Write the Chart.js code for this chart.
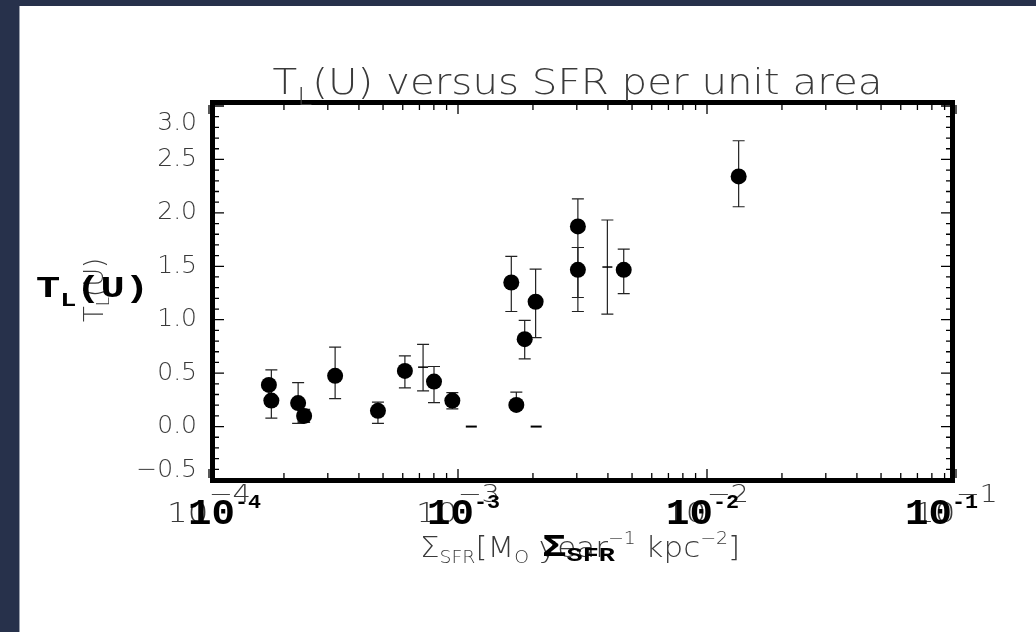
<!DOCTYPE html>
<html>
<head>
<meta charset="utf-8">
<script src="https://cdn.jsdelivr.net/npm/chart.js@4.4.1/dist/chart.umd.min.js"></script>
<style>
    html, body { margin: 0; padding: 0; background: #27314b; }
    canvas { display: block; }
</style>
</head>
<body>
<canvas id="chartTL" width="1036" height="632"></canvas>
<script>
// T_L(U) vs SFR surface density, filled circles with error bars
const sfrDensity = [1.74e-4, 1.78e-4, 2.28e-4, 2.41e-4, 3.21e-4, 4.77e-4, 6.12e-4, 8.01e-4, 9.49e-4,
    1.637e-3, 1.715e-3, 1.853e-3, 2.05e-3, 3.03e-3, 3.03e-3, 4.63e-3, 1.34e-2];
const tlValues = [0.39, 0.243, 0.22, 0.10, 0.475, 0.147, 0.521, 0.421, 0.243,
    1.348, 0.203, 0.818, 1.168, 1.873, 1.467, 1.467, 2.341];
const tlLow = [null, 0.079, 0.03, 0.04, 0.262, 0.03, 0.362, 0.225, 0.166,
    1.077, 0.203, 0.634, 0.833, 1.676, 1.077, 1.245, 2.057];
const tlHigh = [null, 0.531, 0.412, 0.16, 0.743, 0.228, 0.662, 0.562, 0.318,
    1.592, 0.322, 0.993, 1.474, 2.13, 1.676, 1.661, 2.675];

// error bars drawn without a filled marker (just a small dash in the middle)
const openSfr = [7.24e-4, 3.98e-3, 3.03e-3];
const openTl = [0.556, 1.493, 1.44];
const openLow = [0.334, 1.052, 1.208];
const openHigh = [0.77, 1.933, 1.676];

// points sitting on zero, drawn as dashes
const zeroSfr = [1.131e-3, 2.06e-3];
const zeroTl = [0, 0];

// axis labels
const xTickExp = [-4, -3, -2, -1];
const yTickLabels = ['−0.5', '0.0', '0.5', '1.0', '1.5', '2.0', '2.5', '3.0'];
const yTickValues = [-0.5, 0, 0.5, 1.0, 1.5, 2.0, 2.5, 3.0];

const THIN = 'DejaVu Sans';
const MONO = 'Liberation Mono';

// draws a run of text pieces (for sub/superscripts), squeezed to a width if given
function drawParts(ctx, parts, x, y, align, width) {
    let total = 0;
    const ws = parts.map(p => {
        ctx.font = p.f;
        const w = ctx.measureText(p.t).width;
        total += w;
        return w;
    });
    const sx = width ? width / total : 1;
    let start = x;
    if (align === 'center') start = x - total * sx / 2;
    if (align === 'right') start = x - total * sx;
    ctx.save();
    ctx.translate(start, y);
    ctx.scale(sx, 1);
    let cx = 0;
    parts.forEach((p, i) => {
        ctx.font = p.f;
        ctx.fillStyle = p.c;
        ctx.fillText(p.t, cx, p.dy || 0);
        cx += ws[i];
    });
    ctx.restore();
}

const thin = (n) => `200 ${n}px '${THIN}'`;
const bold = (n) => `bold ${n}px '${MONO}'`;
const GREY = '#3a3a3a';

const backdrop = {
    id: 'backdrop',
    beforeDraw(chart) {
        const ctx = chart.ctx;
        ctx.save();
        ctx.fillStyle = '#27314b';
        ctx.fillRect(0, 0, chart.width, chart.height);
        ctx.fillStyle = '#ffffff';
        ctx.fillRect(19, 6, chart.width - 19, chart.height - 6);
        ctx.fillStyle = '#9aa0ad';
        ctx.fillRect(19, 6, 1, chart.height - 6);
        ctx.restore();
    }
};

const errorBars = {
    id: 'errorBars',
    beforeDatasetsDraw(chart) {
        const ctx = chart.ctx;
        const xs = chart.scales.x, ys = chart.scales.y;
        const bar = (xv, lo, hi) => {
            if (lo === null) return;
            const px = xs.getPixelForValue(xv);
            const p1 = ys.getPixelForValue(lo), p2 = ys.getPixelForValue(hi);
            ctx.beginPath();
            ctx.moveTo(px, p1); ctx.lineTo(px, p2);
            ctx.moveTo(px - 6, p1); ctx.lineTo(px + 6, p1);
            ctx.moveTo(px - 6, p2); ctx.lineTo(px + 6, p2);
            ctx.stroke();
        };
        ctx.save();
        ctx.strokeStyle = '#222';
        ctx.lineWidth = 1.2;
        sfrDensity.forEach((v, i) => bar(v, tlLow[i], tlHigh[i]));
        openSfr.forEach((v, i) => bar(v, openLow[i], openHigh[i]));
        ctx.restore();
    }
};

const frameAndLabels = {
    id: 'frameAndLabels',
    afterDraw(chart) {
        const ctx = chart.ctx;
        const xs = chart.scales.x, ys = chart.scales.y;
        const a = chart.chartArea;
        const L = a.left + 6, R = a.right - 6, T = a.top - 1, B = a.bottom - 2;

        ctx.save();
        // ticks on all four sides, pointing inwards
        ctx.strokeStyle = '#000';
        ctx.lineWidth = 1.3;
        ctx.beginPath();
        for (let k = -5; k <= 30; k++) {
            const py = ys.getPixelForValue(k / 10);
            const len = k % 5 === 0 ? 9 : 4;
            ctx.moveTo(L, py); ctx.lineTo(L + len, py);
            ctx.moveTo(R, py); ctx.lineTo(R - len, py);
        }
        for (let d = -4; d <= -1; d++) {
            for (let m = 1; m <= 9; m++) {
                if (d === -1 && m > 1) break;
                const px = xs.getPixelForValue(m * Math.pow(10, d));
                const len = m === 1 ? 9 : 5;
                ctx.moveTo(px, T); ctx.lineTo(px, T + len);
                ctx.moveTo(px, B); ctx.lineTo(px, B - len);
            }
        }
        ctx.stroke();

        // heavy frame
        ctx.lineWidth = 5;
        ctx.strokeRect(L - 2.5, T - 2.5, R - L + 5, B - T + 5);

        // title
        ctx.textBaseline = 'alphabetic';
        drawParts(ctx, [
            { t: 'T', f: thin(36), c: GREY },
            { t: 'L', f: thin(24), c: GREY, dy: 11 },
            { t: '(U) versus SFR per unit area', f: thin(36), c: GREY }
        ], (a.left + a.right) / 2 - 5, 94, 'center', 610);

        // y tick labels, end labels kept inside the frame
        ctx.textBaseline = 'middle';
        yTickValues.forEach((v, i) => {
            let py = ys.getPixelForValue(v);
            py = Math.min(Math.max(py, a.top + 17), a.bottom - 10);
            drawParts(ctx, [{ t: yTickLabels[i], f: thin(25), c: GREY }], a.left - 12, py, 'right');
        });

        // x tick labels: thin set on the ticks, bold set drawn over it
        ctx.textBaseline = 'alphabetic';
        const step = xs.getPixelForValue(1e-3) - xs.getPixelForValue(1e-4);
        xTickExp.forEach((e, i) => {
            const px = xs.getPixelForValue(Math.pow(10, e));
            drawParts(ctx, [
                { t: '10', f: thin(27), c: GREY },
                { t: '−' + (-e), f: thin(24), c: GREY, dy: -20 }
            ], px, 522, 'center', 84);
        });
        xTickExp.forEach((e, i) => {
            const left = xs.getPixelForValue(1e-4) - 21 + i * step * 0.96;
            drawParts(ctx, [
                { t: '10', f: bold(36), c: '#000' },
                { t: '-' + (-e), f: bold(20), c: '#000', dy: -16 }
            ], left, 524, 'left', 73);
        });

        // x axis title, thin then bold
        drawParts(ctx, [
            { t: 'Σ', f: thin(28), c: GREY },
            { t: 'SFR', f: thin(17), c: GREY, dy: 6 },
            { t: '[M', f: thin(28), c: GREY },
            { t: 'O', f: thin(17), c: GREY, dy: 6 },
            { t: ' year', f: thin(28), c: GREY },
            { t: '−1', f: thin(17), c: GREY, dy: -13 },
            { t: ' kpc', f: thin(28), c: GREY },
            { t: '−2', f: thin(17), c: GREY, dy: -13 },
            { t: ']', f: thin(28), c: GREY }
        ], 420, 557, 'left', 320);
        drawParts(ctx, [
            { t: 'Σ', f: bold(32), c: '#000' },
            { t: 'SFR', f: bold(21), c: '#000', dy: 5 }
        ], 542, 556, 'left', 73);

        // y axis title: thin rotated copy and bold horizontal copy
        ctx.save();
        ctx.translate(103, 290);
        ctx.rotate(-Math.PI / 2);
        drawParts(ctx, [
            { t: 'T', f: thin(26), c: GREY },
            { t: 'L', f: thin(17), c: GREY, dy: 6 },
            { t: '(U)', f: thin(26), c: GREY }
        ], 0, 0, 'center', 64);
        ctx.restore();
        drawParts(ctx, [
            { t: 'T', f: bold(30), c: '#000' },
            { t: 'L', f: bold(20), c: '#000', dy: 9 },
            { t: '(U)', f: bold(30), c: '#000' }
        ], 36, 297, 'left', 113);
        ctx.restore();
    }
};

new Chart(document.getElementById('chartTL').getContext('2d'), {
    type: 'scatter',
    data: {
        datasets: [{
            data: sfrDensity.map((x, i) => ({ x: x, y: tlValues[i] })),
            pointRadius: 8,
            pointHoverRadius: 8,
            backgroundColor: '#000',
            borderWidth: 0
        }, {
            data: openSfr.map((x, i) => ({ x: x, y: openTl[i] })),
            pointStyle: 'line',
            pointRadius: 5,
            borderColor: '#000',
            borderWidth: 1.5
        }, {
            data: zeroSfr.map((x, i) => ({ x: x, y: zeroTl[i] })),
            pointStyle: 'line',
            pointRadius: 5.5,
            borderColor: '#000',
            borderWidth: 2
        }]
    },
    options: {
        responsive: false,
        animation: false,
        devicePixelRatio: 1,
        layout: {
            padding: { left: 209, right: 80, top: 106, bottom: 152 }
        },
        plugins: {
            legend: { display: false },
            tooltip: { enabled: false }
        },
        scales: {
            x: { type: 'logarithmic', min: 1e-4, max: 1e-1, display: false },
            y: { type: 'linear', min: -0.5, max: 3.0, display: false }
        }
    },
    plugins: [backdrop, errorBars, frameAndLabels]
});
</script>
</body>
</html>
